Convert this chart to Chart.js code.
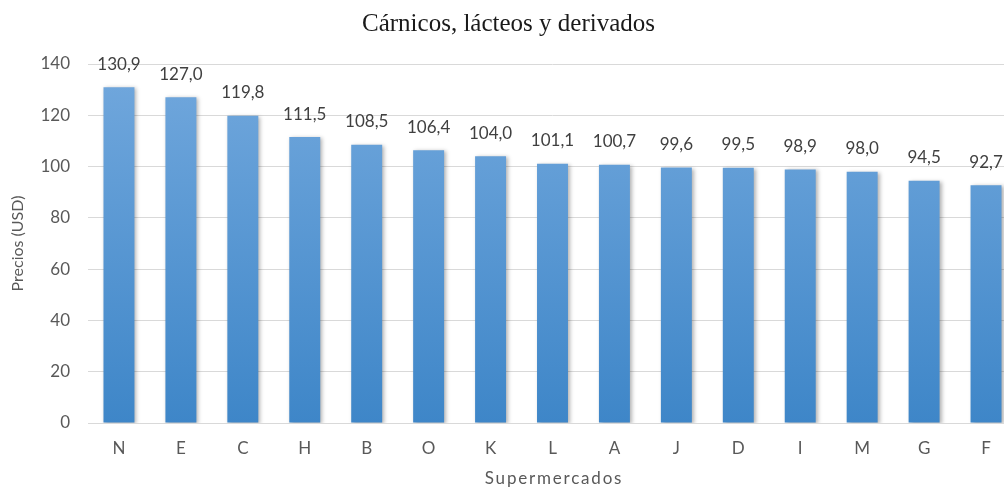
<!DOCTYPE html>
<html><head><meta charset="utf-8">
<script src="https://cdn.jsdelivr.net/npm/chart.js@4/dist/chart.umd.min.js"></script>
<style>
html,body{margin:0;padding:0;background:#fff;overflow:hidden;width:1004px;height:488px}
#wrap{width:1020px;height:488px;position:relative}
</style></head><body>
<div id="wrap"><canvas id="c"></canvas></div>
<script>
const categories = ["N","E","C","H","B","O","K","L","A","J","D","I","M","G","F"];
const prices = [130.9,127.0,119.8,111.5,108.5,106.4,104.0,101.1,100.7,99.6,99.5,98.9,98.0,94.5,92.7];
const yTicks = [0,20,40,60,80,100,120,140];
const xTitle = 'Supermercados';

const FONT = 'Lato, "Open Sans", sans-serif';

const labelPlugin = {
  id:'labels',
  afterDatasetsDraw(chart){
    const ctx = chart.ctx;
    const meta = chart.getDatasetMeta(0);
    ctx.save();
    ctx.font = '17px ' + FONT;
    ctx.fillStyle = '#404040';
    ctx.textAlign = 'center';
    ctx.textBaseline = 'middle';
    meta.data.forEach((bar,i)=>{
      ctx.fillText(prices[i].toFixed(1).replace('.',','), bar.x, bar.y - 23);
    });
    ctx.restore();
  },
  afterDraw(chart){
    const ctx = chart.ctx;
    ctx.save();
    ctx.font = '17px ' + FONT;
    ctx.fillStyle = '#595959';
    ctx.textAlign = 'center';
    ctx.textBaseline = 'middle';
    try { ctx.letterSpacing = '1.8px'; } catch(e) {}
    ctx.fillText(xTitle, 554, 479);
    ctx.restore();
  }
};
const shadowPlugin = {
  id:'shadow',
  beforeDatasetsDraw(chart){
    const ctx = chart.ctx;
    ctx.save();
    ctx.shadowColor = 'rgba(0,0,0,0.3)';
    ctx.shadowBlur = 4;
    ctx.shadowOffsetX = 2;
    ctx.shadowOffsetY = 1;
  },
  afterDatasetsDraw(chart){ chart.ctx.restore(); }
};

new Chart(document.getElementById('c'), {
  type:'bar',
  data:{
    labels:categories,
    datasets:[{
      data:prices,
      backgroundColor:(c)=>{
        const ca = c.chart.chartArea;
        if(!ca) return '#5b9bd5';
        const g = c.chart.ctx.createLinearGradient(0, ca.top, 0, ca.bottom);
        g.addColorStop(0,'#72a8dd');
        g.addColorStop(1,'#3e86c8');
        return g;
      },
      categoryPercentage:1,
      barPercentage:0.5
    }]
  },
  options:{
    responsive:true,
    maintainAspectRatio:false,
    animation:false,
    layout:{padding:{left:0,right:3,top:0,bottom:0}},
    plugins:{
      legend:{display:false},
      tooltip:{enabled:false},
      title:{display:true,text:'Cárnicos, lácteos y derivados',
        font:{family:'"Liberation Serif", "Times New Roman", serif',size:25,weight:'normal'},
        color:'#1a1a1a',padding:{top:9,bottom:25}}
    },
    scales:{
      x:{
        afterFit(s){ s.height = 65; },
        grid:{display:false,drawTicks:false},
        border:{display:true,color:'#d9d9d9',width:1},
        ticks:{color:'#595959',font:{family:FONT,size:17},padding:15},
        title:{display:false}
      },
      y:{
        min:0,max:140,
        afterBuildTicks(s){ s.ticks = yTicks.map(v=>({value:v})); },
        afterFit(s){ s.width = 88; },
        grid:{color:'#d9d9d9',drawTicks:false},
        border:{display:false},
        ticks:{color:'#595959',font:{family:FONT,size:17},padding:18},
        title:{display:true,text:'Precios (USD)',color:'#595959',
          font:{family:FONT,size:16},padding:{top:8,bottom:0}}
      }
    }
  },
  plugins:[shadowPlugin,labelPlugin]
});
</script>
</body></html>
